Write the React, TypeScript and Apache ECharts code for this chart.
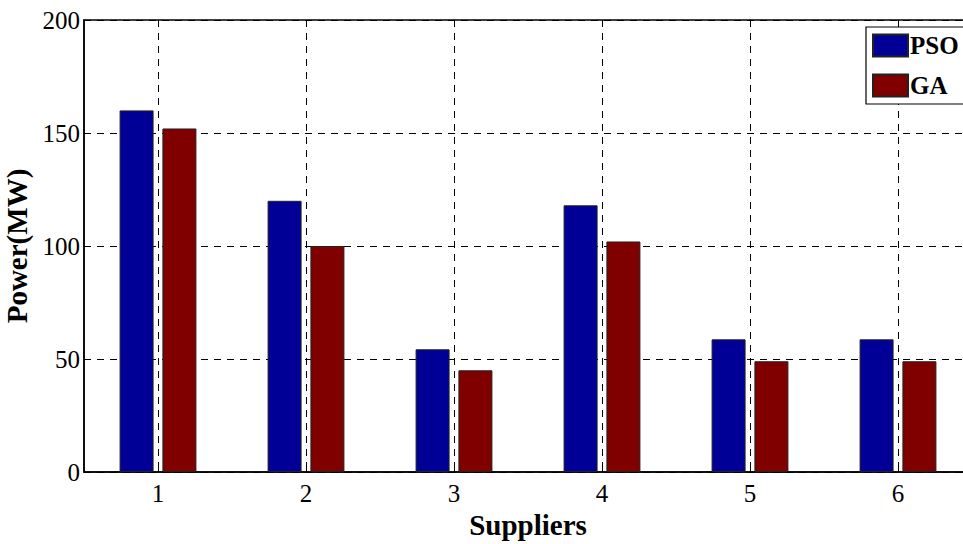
import React, { useEffect, useRef } from "react";
import * as echarts from "echarts";

const categories = ["1", "2", "3", "4", "5", "6"];
const psoValues = [160, 120, 54.3, 118, 58.7, 58.7];
const gaValues = [152, 100, 45, 102, 49, 49];
const gridPositions = ["0.5", "1", "1.5", "2", "2.5", "3", "3.5", "4", "4.5", "5", "5.5", "6", "6.5"];
const yTicks = { min: 0, max: 200, interval: 50 };

const FONT = "'Liberation Serif', 'Times New Roman', serif";

export default function App() {
  const ref = useRef<HTMLDivElement>(null);
  useEffect(() => {
    if (!ref.current) return;
    const chart = echarts.init(ref.current, null, { renderer: "svg" });
    chart.setOption({
      animation: false,
      backgroundColor: "#ffffff",
      grid: {
        left: 84,
        top: 20,
        width: 888,
        height: 452,
        containLabel: false,
        outerBoundsMode: "none",
        show: true,
        borderColor: "#000",
        borderWidth: 1.5,
        backgroundColor: "transparent",
      },
      legend: {
        orient: "vertical",
        left: 866,
        top: 27,
        padding: [6, 60, 6, 6],
        backgroundColor: "#fff",
        borderColor: "#000",
        borderWidth: 1.2,
        icon: "rect",
        itemWidth: 35,
        itemHeight: 22,
        itemGap: 15,
        textStyle: {
          fontFamily: FONT,
          fontWeight: "bold",
          fontSize: 25,
          color: "#000",
          padding: [0, 0, 0, -3],
        },
        data: ["PSO", "GA"],
      },
      xAxis: [
        {
          type: "category",
          data: categories,
          boundaryGap: true,
          axisLine: { show: true, lineStyle: { color: "#000", width: 1.5 } },
          axisTick: { show: true, inside: true, alignWithLabel: true, length: 6, lineStyle: { color: "#000" } },
          axisLabel: { fontFamily: FONT, fontSize: 25, color: "#000", margin: 9 },
          splitLine: { show: false },
          name: "Suppliers",
          nameLocation: "middle",
          nameGap: 37,
          nameTextStyle: { fontFamily: FONT, fontWeight: "bold", fontSize: 29, color: "#000" },
        },
        {
          type: "category",
          data: gridPositions,
          boundaryGap: false,
          position: "bottom",
          axisLine: { show: false },
          axisTick: { show: false },
          axisLabel: { show: false },
          splitLine: {
            show: true,
            interval: (index: number) => index % 2 === 1,
            lineStyle: { color: "#000", type: [7, 6], width: 1 },
          },
        },
      ],
      yAxis: {
        type: "value",
        min: yTicks.min,
        max: yTicks.max,
        interval: yTicks.interval,
        axisLine: { show: true, lineStyle: { color: "#000", width: 1.5 } },
        axisTick: { show: true, inside: true, length: 6, lineStyle: { color: "#000" } },
        axisLabel: { fontFamily: FONT, fontSize: 25, color: "#000", margin: 4 },
        splitLine: { show: true, lineStyle: { color: "#000", type: [7, 6], width: 1 } },
        name: "Power(MW)",
        nameLocation: "middle",
        nameGap: 42,
        nameTextStyle: { fontFamily: FONT, fontWeight: "bold", fontSize: 29, color: "#000" },
      },
      series: [
        {
          name: "PSO",
          type: "bar",
          data: psoValues,
          barWidth: 34,
          barGap: "26%",
          itemStyle: { color: "#000096", borderColor: "#222", borderWidth: 1 },
          z: 3,
        },
        {
          name: "GA",
          type: "bar",
          data: gaValues,
          barWidth: 34,
          barGap: "26%",
          itemStyle: { color: "#800000", borderColor: "#222", borderWidth: 1 },
          z: 3,
        },
      ],
    });
    return () => chart.dispose();
  }, []);
  return (
    <div
      ref={ref}
      style={{ position: "absolute", left: 0, top: 0, width: 963, height: 544, overflow: "hidden" }}
    />
  );
}
